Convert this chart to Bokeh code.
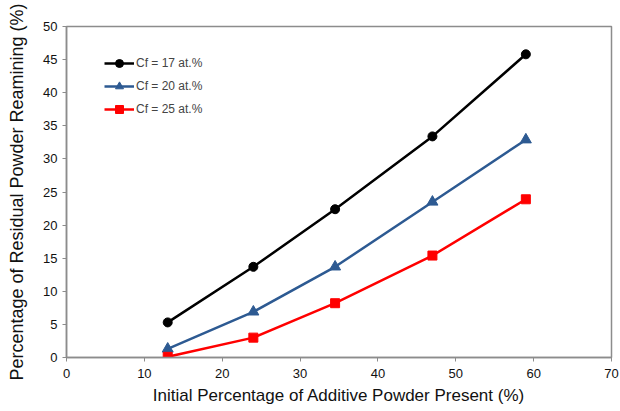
from bokeh.plotting import figure
from bokeh.models import Range1d, Legend, LegendItem, SingleIntervalTicker
from bokeh.embed import file_html
from bokeh.resources import INLINE

x_vals = [13, 24, 34.5, 47, 59]
cf17 = [5.3, 13.7, 22.4, 33.4, 45.8]
cf20 = [1.3, 6.9, 13.7, 23.5, 32.9]
cf25 = [0.1, 3.0, 8.2, 15.4, 23.9]
labels = ["Cf = 17 at.%", "Cf = 20 at.%", "Cf = 25 at.%"]

FONT = "Liberation Sans"

p = figure(width=620, height=410, output_backend="svg", toolbar_location=None,
           x_range=Range1d(0, 70), y_range=Range1d(0, 50),
           min_border_left=66, min_border_right=9, min_border_top=26, min_border_bottom=53)
p.grid.visible = False
p.outline_line_color = "#8c8c8c"
p.outline_line_width = 1.5

for ax in (p.xaxis[0], p.yaxis[0]):
    ax.axis_line_color = "#8c8c8c"
    ax.axis_line_width = 1.5
    ax.major_tick_line_color = "#8c8c8c"
    ax.major_tick_out = 4
    ax.major_tick_in = 0
    ax.minor_tick_line_color = None
    ax.major_label_text_font = FONT
    ax.axis_label_text_font = FONT
    ax.axis_label_text_font_style = "normal"
    ax.major_label_text_color = "#111111"
    ax.axis_label_text_color = "#111111"
    ax.major_label_text_font_size = "13px"

p.xaxis.ticker = SingleIntervalTicker(interval=10)
p.yaxis.ticker = SingleIntervalTicker(interval=5)
p.xaxis.axis_label = "Initial Percentage of Additive Powder Present (%)"
p.yaxis.axis_label = "Percentage of Residual Powder Reamining (%)"
p.xaxis.axis_label_text_font_size = "17px"
p.yaxis.axis_label_text_font_size = "18px"
p.xaxis.axis_label_standoff = 5
p.yaxis.axis_label_standoff = 13
p.xaxis.major_label_standoff = 7
p.yaxis.major_label_standoff = 5

series = [(cf17, "black", "circle", 9), (cf20, "#2d5a92", "triangle", 11), (cf25, "#ff0000", "square", 9)]
items = []
for (ys, col, mk, sz), lab in zip(series, labels):
    l = p.line(x_vals, ys, line_color=col, line_width=2.5)
    m = p.scatter(x_vals, ys, marker=mk, size=sz, fill_color=col, line_color=col)
    items.append(LegendItem(label=lab, renderers=[l, m]))

legend = Legend(items=items, location=(38, 238), border_line_color=None,
                background_fill_alpha=0, label_text_font=FONT, label_text_font_size="12px",
                glyph_width=30, glyph_height=20, label_height=20, spacing=3, padding=5,
                margin=0, label_standoff=2)
p.add_layout(legend, "center")

open("out.html", "w").write(file_html(p, INLINE))
